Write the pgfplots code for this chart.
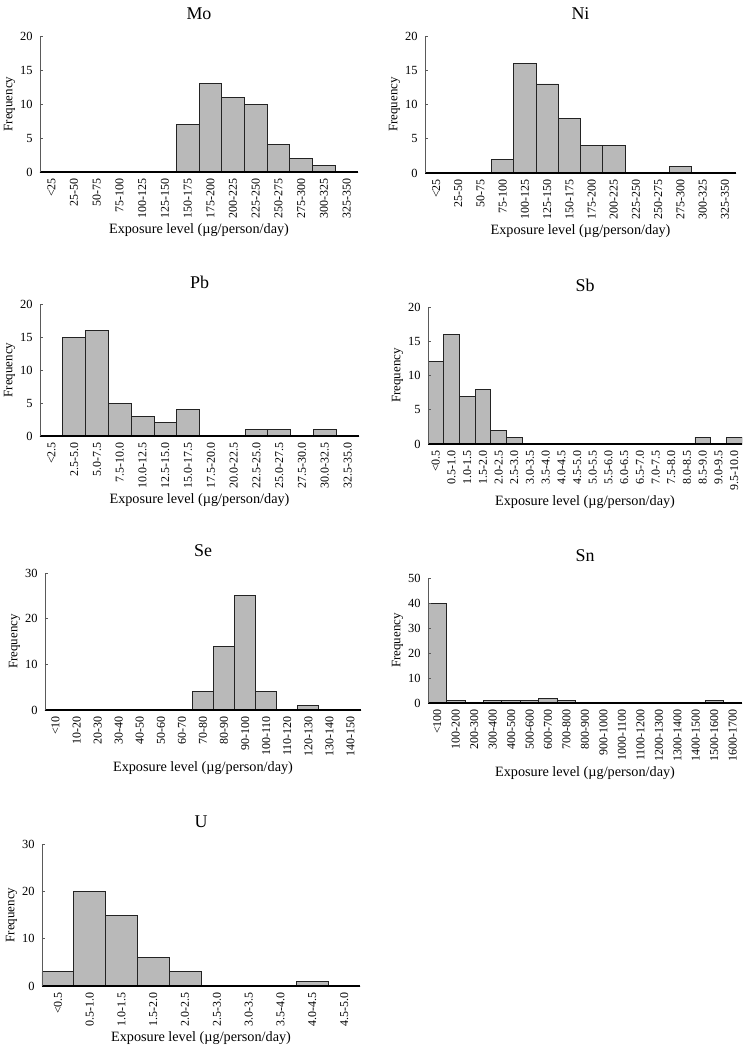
\documentclass[border=0pt]{standalone}
\usepackage{fontspec}
\setmainfont{Liberation Serif}
\usepackage{pgfplots}
\pgfplotsset{compat=1.18}
\definecolor{barfill}{RGB}{185,185,185}
\definecolor{baredge}{RGB}{35,35,35}
\definecolor{yaxis}{RGB}{90,90,90}
\pgfplotsset{
  hist/.style={
    scale only axis,
    axis on top,
    axis x line*=bottom,
    axis y line*=left,
    x axis line style={-, black, line width=1.3bp},
    y axis line style={-, yaxis, line width=0.7bp},
    xtick=data,
    major x tick style={draw=none},
    ytick style={yaxis, line width=0.7bp},
    major tick length=3bp,
    ymin=0,
    x tick label style={rotate=90, anchor=east, font=\fontsize{12}{13}\selectfont, inner sep=2bp, xshift=-4bp},
    y tick label style={font=\fontsize{12.5}{13}\selectfont, xshift=-4bp},
    /pgf/number format/assume math mode=true,
    every axis title/.style={font=\fontsize{18}{20}\selectfont, at={(0.5,1)}, anchor=center, yshift=22bp},
    xlabel={Exposure level (µg/person/day)},
    ylabel={Frequency},
    xlabel style={font=\fontsize{14.3}{16}\selectfont, yshift=-0.5bp},
    ylabel style={font=\fontsize{13}{15}\selectfont, yshift=-2bp},
  },
  hbar/.style={ybar, bar width=1, bar shift=0, fill=barfill, draw=baredge, line width=0.8bp},
}
\begin{document}
\begin{tikzpicture}
\path[use as bounding box] (0,0) rectangle (746bp,-1050bp);

% Mo
\begin{axis}[hist, at={(40bp,-172bp)}, anchor=south west, width=318bp, height=136bp,
  title={Mo}, xmin=-0.5, xmax=13.5, ymax=20, ytick={0,5,10,15,20},
  xticklabels={<25,25-50,50-75,75-100,100-125,125-150,150-175,175-200,200-225,225-250,250-275,275-300,300-325,325-350}]
\addplot[hbar] coordinates {(0,0) (1,0) (2,0) (3,0) (4,0) (5,0) (6,7) (7,13) (8,11) (9,10) (10,4) (11,2) (12,1) (13,0)};
\end{axis}

% Ni
\begin{axis}[hist, at={(425bp,-173bp)}, anchor=south west, width=311bp, height=137bp,
  title={Ni}, xmin=-0.5, xmax=13.5, ymax=20, ytick={0,5,10,15,20},
  xticklabels={<25,25-50,50-75,75-100,100-125,125-150,150-175,175-200,200-225,225-250,250-275,275-300,300-325,325-350}]
\addplot[hbar] coordinates {(0,0) (1,0) (2,0) (3,2) (4,16) (5,13) (6,8) (7,4) (8,4) (9,0) (10,0) (11,1) (12,0) (13,0)};
\end{axis}

% Pb
\begin{axis}[hist, at={(40bp,-436bp)}, anchor=south west, width=319bp, height=132bp,
  title={Pb}, xmin=-0.5, xmax=13.5, ymax=20, ytick={0,5,10,15,20},
  xticklabels={<2.5,2.5-5.0,5.0-7.5,7.5-10.0,10.0-12.5,12.5-15.0,15.0-17.5,17.5-20.0,20.0-22.5,22.5-25.0,25.0-27.5,27.5-30.0,30.0-32.5,32.5-35.0}]
\addplot[hbar] coordinates {(0,0) (1,15) (2,16) (3,5) (4,3) (5,2) (6,4) (7,0) (8,0) (9,1) (10,1) (11,0) (12,1) (13,0)};
\end{axis}

% Sb
\begin{axis}[hist, at={(428bp,-444bp)}, anchor=south west, width=314bp, height=137bp,
  title={Sb}, xmin=-0.5, xmax=19.5, ymax=20, ytick={0,5,10,15,20},
  xticklabels={<0.5,0.5-1.0,1.0-1.5,1.5-2.0,2.0-2.5,2.5-3.0,3.0-3.5,3.5-4.0,4.0-4.5,4.5-5.0,5.0-5.5,5.5-6.0,6.0-6.5,6.5-7.0,7.0-7.5,7.5-8.0,8.0-8.5,8.5-9.0,9.0-9.5,9.5-10.0}]
\addplot[hbar] coordinates {(0,12) (1,16) (2,7) (3,8) (4,2) (5,1) (6,0) (7,0) (8,0) (9,0) (10,0) (11,0) (12,0) (13,0) (14,0) (15,0) (16,0) (17,1) (18,0) (19,1)};
\end{axis}

% Se
\begin{axis}[hist, at={(45bp,-710bp)}, anchor=south west, width=316bp, height=137bp,
  title={Se}, xmin=-0.5, xmax=14.5, ymax=30, ytick={0,10,20,30},
  xticklabels={<10,10-20,20-30,30-40,40-50,50-60,60-70,70-80,80-90,90-100,100-110,110-120,120-130,130-140,140-150}]
\addplot[hbar] coordinates {(0,0) (1,0) (2,0) (3,0) (4,0) (5,0) (6,0) (7,4) (8,14) (9,25) (10,4) (11,0) (12,1) (13,0) (14,0)};
\end{axis}

% Sn
\begin{axis}[hist, at={(428bp,-703bp)}, anchor=south west, width=314bp, height=125bp,
  title={Sn}, xmin=-0.5, xmax=16.5, ymax=50, ytick={0,10,20,30,40,50},
  xticklabels={<100,100-200,200-300,300-400,400-500,500-600,600-700,700-800,800-900,900-1000,1000-1100,1100-1200,1200-1300,1300-1400,1400-1500,1500-1600,1600-1700}]
\addplot[hbar] coordinates {(0,40) (1,1) (2,0) (3,1) (4,1) (5,1) (6,2) (7,1) (8,0) (9,0) (10,0) (11,0) (12,0) (13,0) (14,0) (15,1) (16,0)};
\end{axis}

% U
\begin{axis}[hist, at={(42bp,-986bp)}, anchor=south west, width=318bp, height=142bp,
  title={U}, xmin=-0.5, xmax=9.5, ymax=30, ytick={0,10,20,30},
  xticklabels={<0.5,0.5-1.0,1.0-1.5,1.5-2.0,2.0-2.5,2.5-3.0,3.0-3.5,3.5-4.0,4.0-4.5,4.5-5.0}]
\addplot[hbar] coordinates {(0,3) (1,20) (2,15) (3,6) (4,3) (5,0) (6,0) (7,0) (8,1) (9,0)};
\end{axis}
\end{tikzpicture}
\end{document}
